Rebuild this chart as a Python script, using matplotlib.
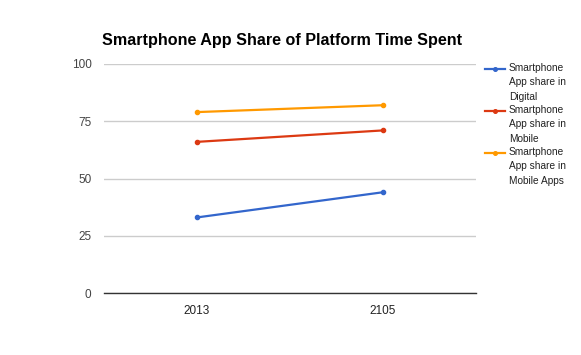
import matplotlib
matplotlib.use("Agg")
import matplotlib.pyplot as plt
from matplotlib.lines import Line2D

categories = ["2013", "2105"]
digital = [33, 44]
mobile = [66, 71]
mobile_apps = [79, 82]
series_labels = ["Smartphone\nApp share in\nDigital",
                 "Smartphone\nApp share in\nMobile",
                 "Smartphone\nApp share in\nMobile Apps"]
colors = ["#3366cc", "#dc3912", "#ff9900"]
yticks = [0, 25, 50, 75, 100]

plt.rcParams['font.family'] = ['Liberation Sans', 'DejaVu Sans']

W, H = 581, 355
fig = plt.figure(figsize=(W/100, H/100), dpi=100)
ax = fig.add_axes([104/W, 1-293/H, (476-104)/W, (293-64)/H])

x = list(range(len(categories)))
for vals, c in zip([digital, mobile, mobile_apps], colors):
    ax.plot(x, vals, color=c, lw=1.6, marker='o', ms=3.0, zorder=3)

ax.set_xlim(-0.5, len(categories)-0.5)
ax.set_ylim(0, 100)
ax.set_yticks(yticks)
ax.set_yticklabels([str(v) for v in yticks], fontsize=8.5, color="#444444")
ax.set_xticks(x)
ax.set_xticklabels(categories, fontsize=8.5, color="#222222")
ax.tick_params(axis='both', length=0)
ax.tick_params(axis='y', pad=9)
ax.tick_params(axis='x', pad=9)
ax.grid(axis='y', color="#cccccc", lw=1)
for s in ["top", "right", "left"]:
    ax.spines[s].set_visible(False)
ax.spines["bottom"].set_color("#333333")
ax.spines["bottom"].set_linewidth(1)
ax.set_axisbelow(True)

fig.text(282/W, 1-40/H, "Smartphone App Share of Platform Time Spent",
         ha='center', va='center', fontsize=11.6, fontweight='bold', color="#000000")

leg_y = [69, 111, 153]
for yy, lab, c in zip(leg_y, series_labels, colors):
    fig.add_artist(Line2D([485/W, 505/W], [1-yy/H, 1-yy/H], color=c, lw=1.6,
                          transform=fig.transFigure))
    fig.add_artist(Line2D([495/W], [1-yy/H], color=c, marker='o', ms=2.6,
                          transform=fig.transFigure))
    fig.text(509/W, 1-(yy-6)/H, lab, ha='left', va='top', fontsize=7.3,
             color="#222222", linespacing=1.55)

fig.savefig("out.png", dpi=100, facecolor="white")
